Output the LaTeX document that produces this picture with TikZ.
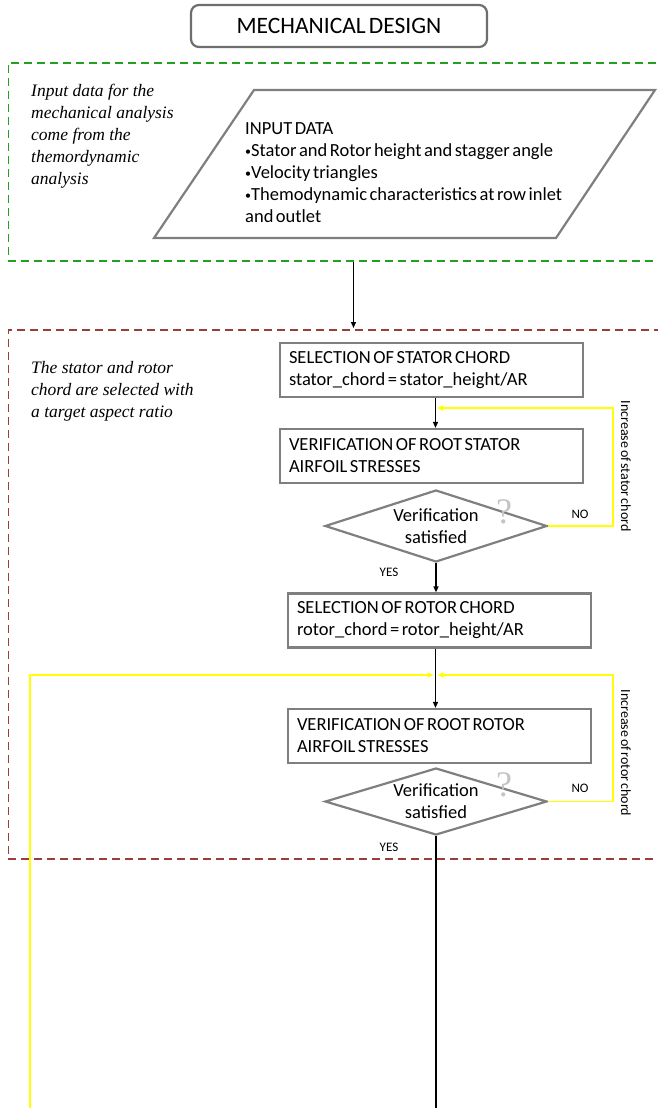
\documentclass[tikz,border=0pt]{standalone}
\usepackage{fontspec}
\setmainfont{Carlito}[WordSpace=0.6]
\newfontfamily\notefont{Liberation Serif}
\usetikzlibrary{shapes.geometric,arrows.meta}
\definecolor{boxgray}{HTML}{7F7F7F}
\definecolor{titlegray}{HTML}{6E6E6E}
\definecolor{zonegreen}{HTML}{22A022}
\definecolor{zonered}{HTML}{993D3D}
\definecolor{loopyellow}{HTML}{FFFF00}
\definecolor{qgray}{HTML}{C4C4C4}
% small list bullet
\newcommand{\lbul}{\raisebox{1.6pt}{\fontsize{12}{12}\selectfont•}}

\begin{document}
\begin{tikzpicture}[x=1pt,y=-1pt,
  every node/.style={font=\fontsize{18.5}{22}\selectfont},
  titlebox/.style={draw=titlegray, line width=2.2pt, rounded corners=8pt,
    minimum width=296pt, minimum height=42pt, inner sep=0pt,
    font=\fontsize{23.5}{26}\selectfont},
  procbox/.style={draw=boxgray, line width=2.2pt, align=left, text width=285pt,
    inner xsep=9pt, inner ysep=0pt, minimum height=54pt,
    execute at begin node={\spaceskip=0pt\xspaceskip=0pt\relax}},
  decision/.style={draw=boxgray, line width=2.2pt, diamond, aspect=3.08,
    minimum width=222pt, minimum height=72pt, inner sep=0pt, align=center},
  zone/.style={dash pattern=on 8pt off 5pt, line width=1.8pt,
    minimum width=680pt, inner sep=0pt, anchor=north west},
  note/.style={font=\notefont\itshape\fontsize{17.5}{22}\selectfont,
    align=left, anchor=west, inner sep=0pt},
  flow/.style={line width=1.3pt, -{Triangle[length=6pt,width=5pt]}},
  loop/.style={draw=loopyellow, line width=1.5pt,
    -{Triangle[length=6pt,width=5pt]}},
  tag/.style={font=\fontsize{13}{15}\selectfont, inner sep=0pt},
  sidetag/.style={font=\fontsize{14}{16}\selectfont, inner sep=0pt, rotate=-90},
  qmark/.style={text=qgray, font=\notefont\fontsize{36}{36}\selectfont, inner sep=0pt}
]
\useasboundingbox (0,0) rectangle (658,1108);
\clip (0,0) rectangle (658,1108);

% title
\node[titlebox] (title) at (339,26) {MECHANICAL DESIGN};

% input zone
\node[zone, draw=zonegreen, minimum height=198pt] (gbox) at (7.5,62) {};
\node[note] (note1) at (31,136) {Input data for the\\mechanical analysis\\come from the\\themordynamic\\analysis};
\draw[boxgray, line width=2.2pt] (254,90) -- (655,90) -- (556,238) -- (154,238) -- cycle;
\node[align=left, anchor=west, inner sep=0pt] (indata) at (245,173)
  {INPUT DATA\\\lbul Stator and Rotor height and stagger angle\\\lbul Velocity triangles\\\lbul Themodynamic characteristics at row inlet\\and outlet};

% chord selection zone
\node[zone, draw=zonered, minimum height=529pt] (rbox) at (7.5,329) {};
\node[note] (note2) at (31,391) {The stator and rotor\\chord are selected with\\a target aspect ratio};

\node[procbox] (b1) at (431.5,370) {SELECTION OF STATOR CHORD\\stator\_chord = stator\_height/AR};
\node[procbox] (b2) at (431.5,456) {VERIFICATION OF ROOT STATOR\\AIRFOIL STRESSES};
\node[decision] (d1) at (436,526) {Verification\\satisfied};
\node[procbox] (b3) at (439.5,620.5) {SELECTION OF ROTOR CHORD\\rotor\_chord = rotor\_height/AR};
\node[procbox] (b4) at (439.5,736) {VERIFICATION OF ROOT ROTOR\\AIRFOIL STRESSES};
\node[decision, minimum height=67pt] (d2) at (436,801.5) {Verification\\satisfied};

\node[qmark] (q1) at (504,512) {?};
\node[qmark] (q2) at (504,785) {?};

% labels
\node[tag] (yes1) at (389,572) {YES};
\node[tag] (no1) at (580,514) {NO};
\node[tag] (yes2) at (389,847) {YES};
\node[tag] (no2) at (580,788) {NO};
\node[sidetag] (inc1) at (626,466) {Increase of stator chord};
\node[sidetag] (inc2) at (626,753) {Increase of rotor chord};

% main flow
\coordinate (mx) at (353.5,0);
\coordinate (axis) at (435.5,0);
\coordinate (bottom) at (0,1108);
\draw[flow, shorten >=1pt] (gbox.south -| mx) -- (rbox.north -| mx);
\draw[flow] (b1.south -| axis) -- (b2.north -| axis);
\draw[flow] (d1.south) -- (b3.north -| d1.south);
\draw[flow] (b3.south -| axis) -- (b4.north -| axis);
\draw[line width=1.8pt] (d2.south) -- (d2.south |- bottom);

% feedback loops
\coordinate (j1) at (437,408);
\coordinate (r1) at (613,408);
\draw[loop] (d1.east) -| (r1) -- (j1);
\coordinate (j2) at (437.5,675);
\coordinate (r2) at (613,675);
\draw[loop] (d2.east) -| (r2) -- (j2);
\coordinate (lb) at (30,1108);
\coordinate (l2) at (30,675);
\coordinate (j2l) at (433.5,675);
\draw[loop] (lb) -- (l2) -- (j2l);
\end{tikzpicture}
\end{document}
